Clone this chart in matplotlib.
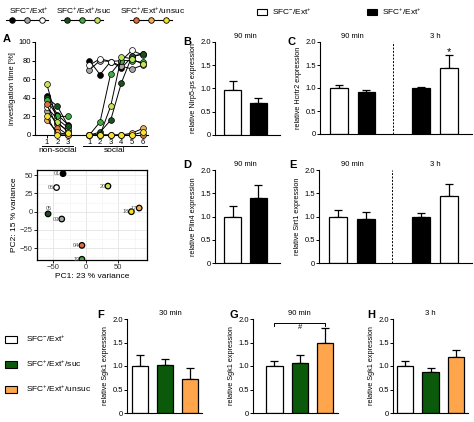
import numpy as np
import matplotlib
matplotlib.use("Agg")
import matplotlib.pyplot as plt
from matplotlib.patches import Rectangle

plt.rcParams.update({
    "font.family": ["Liberation Sans", "DejaVu Sans"],
    "mathtext.fontset": "custom",
    "mathtext.rm": "Liberation Sans",
    "mathtext.it": "Liberation Sans",
    "font.size": 6,
    "axes.linewidth": 0.8,
})

W, H = 474, 422

# ---- data ----
CTRL = r"SFC$^{-}$/Ext$^{+}$"
EXT = r"SFC$^{+}$/Ext$^{+}$"
SUC = r"SFC$^{+}$/Ext$^{+}$/suc"
UNSUC = r"SFC$^{+}$/Ext$^{+}$/unsuc"

animal_colors = ["#000000", "#a6a6a6", "#ffffff",
                 "#1d4f1d", "#3fae3f", "#c4e35a",
                 "#d8703f", "#f6ad4f", "#f4e52c"]
nonsocial = [[42, 22, 11], [26, 12, 5], [30, 17, 8],
             [40, 31, 10], [38, 20, 20], [55, 14, 3],
             [33, 8, 0], [16, 3, 0], [20, 0, 2]]
social = [[80, 65, 79, 72, 84, 87], [70, 80, 79, 74, 71, 75], [75, 82, 79, 80, 91, 86],
          [0, 3, 16, 56, 85, 87], [0, 14, 66, 80, 80, 78], [0, 0, 31, 84, 82, 76],
          [0, 0, 0, 0, 0, 0], [0, 0, 0, 0, 2, 7], [0, 0, 0, 0, 0, 3]]
ns_pos = [0, 1, 2]
so_pos = [4, 5, 6, 7, 8, 9]
trial_labels = ["1", "2", "3", "1", "2", "3", "4", "5", "6"]

pca_ids = ["01", "06", "05", "03", "20", "17", "18", "04", "19"]
pca_x = [-35, -45, -58, -37, 34, 82, 70, -6, -6]
pca_y = [52, 33, -3, -10, 35, 5, 0, -46, -65]
pca_colors = ["#000000", "#ffffff", "#1d4f1d", "#a6a6a6", "#c4e35a",
              "#f6ad4f", "#f4e52c", "#d8703f", "#3fae3f"]

nlrp5_mean = [0.97, 0.68]
nlrp5_err = [0.20, 0.11]
hcrtr2_mean = [1.00, 0.91, 1.00, 1.44]
hcrtr2_err = [0.07, 0.05, 0.02, 0.28]
plin4_mean = [1.00, 1.40]
plin4_err = [0.22, 0.28]
sirt1_mean = [1.00, 0.94, 1.00, 1.45]
sirt1_err = [0.14, 0.15, 0.08, 0.24]
sgk1_30_mean = [1.00, 1.03, 0.72]
sgk1_30_err = [0.23, 0.12, 0.23]
sgk1_90_mean = [1.00, 1.07, 1.50]
sgk1_90_err = [0.10, 0.16, 0.30]
sgk1_3h_mean = [1.00, 0.87, 1.20]
sgk1_3h_err = [0.10, 0.08, 0.15]

GREEN = "#0b5a0b"
ORANGE = "#ffa54c"

fig = plt.figure(figsize=(W / 100, H / 100), dpi=100)


def add_ax(l, t, r, b):
    return fig.add_axes([l / W, 1 - b / H, (r - l) / W, (b - t) / H])


def bar_style(ax, ylabel, xlim):
    ax.spines["top"].set_visible(False)
    ax.spines["right"].set_visible(False)
    ax.set_ylim(0, 2.0)
    ax.set_xlim(*xlim)
    ax.set_yticks([0, 0.5, 1.0, 1.5, 2.0])
    ax.set_yticklabels(["0", "0.5", "1.0", "1.5", "2.0"])
    ax.set_xticks([])
    ax.tick_params(axis="y", length=2, width=0.7, labelsize=5.5, pad=1)
    ax.set_ylabel(ylabel, fontsize=5.2, labelpad=2)


def draw_bars(ax, pos, means, errs, colors, width=0.65):
    ax.bar(pos, means, width=width, color=colors, edgecolor="black", linewidth=0.9, zorder=2)
    ax.errorbar(pos, means, yerr=[np.zeros(len(means)), errs], fmt="none",
                ecolor="black", elinewidth=0.9, capsize=2.6, capthick=0.9, zorder=1)


# ---- panel A: investigation time ----
axA = add_ax(35, 42, 148, 135)
for c, ns, so in zip(animal_colors, nonsocial, social):
    axA.plot(ns_pos, ns, color="black", lw=0.7, marker="o", ms=4.2, mfc=c, mec="black",
             mew=0.5, clip_on=False, zorder=3)
    axA.plot(so_pos, so, color="black", lw=0.7, marker="o", ms=4.2, mfc=c, mec="black",
             mew=0.5, clip_on=False, zorder=3)
axA.set_xlim(-1.1, 9.5)
axA.set_ylim(0, 100)
axA.set_yticks([0, 20, 40, 60, 80, 100])
axA.set_xticks(ns_pos + so_pos)
axA.set_xticklabels(trial_labels)
axA.spines["top"].set_visible(False)
axA.spines["right"].set_visible(False)
axA.tick_params(length=2, width=0.7, labelsize=5.5, pad=1)
axA.set_ylabel("investigation time [%]", fontsize=5.5, labelpad=2)
trA = axA.get_xaxis_transform()
for x0, x1, lab in [(-0.4, 2.5, "non-social"), (3.4, 9.4, "social")]:
    axA.plot([x0, x1], [-0.115, -0.115], color="black", lw=0.7, transform=trA, clip_on=False)
    axA.text((x0 + x1) / 2, -0.13, lab, transform=trA, ha="center", va="top", fontsize=6)

# ---- PCA ----
axP = add_ax(37, 170, 147, 260)
axP.set_xlim(-68, 94)
axP.set_ylim(-66, 57)
axP.set_xticks([-50, 0, 50])
axP.set_yticks([-50, -25, 0, 25, 50])
axP.set_xticks([-75, -25, 25, 75], minor=True)
axP.set_yticks([-62.5, -37.5, -12.5, 12.5, 37.5], minor=True)
axP.grid(True, which="major", color="#e4e4e4", lw=0.6)
axP.grid(True, which="minor", color="#f2f2f2", lw=0.4)
axP.set_axisbelow(True)
axP.tick_params(which="minor", length=0)
axP.tick_params(which="major", length=2, width=0.6, labelsize=5.5, pad=1, labelcolor="#333333")
for s in axP.spines.values():
    s.set_linewidth(0.9)
axP.scatter(pca_x, pca_y, s=16, c=pca_colors, edgecolors="black", linewidths=0.9, zorder=3)
for i, (x, y) in enumerate(zip(pca_x, pca_y)):
    if pca_ids[i] == "05":
        axP.text(x + 1, y + 4, pca_ids[i], fontsize=4, color="#555555", ha="center", va="bottom")
    else:
        axP.text(x - 4, y, pca_ids[i], fontsize=4, color="#555555", ha="right", va="center")
axP.set_xlabel("PC1: 23 % variance", fontsize=6, labelpad=1)
axP.set_ylabel("PC2: 15 % variance", fontsize=6, labelpad=1)

# ---- B ----
axB = add_ax(215, 42, 280, 135)
bar_style(axB, "relative Nlrp5-ps expression", (-0.69, 1.86))
draw_bars(axB, [0, 1], nlrp5_mean, nlrp5_err, ["white", "black"], 0.67)
axB.text(0.5, 2.04, "90 min", ha="center", va="bottom", fontsize=5.5)

# ---- C ----
axC = add_ax(320, 42, 472, 134)
bar_style(axC, "relative Hcrtr2 expression", (-0.69, 4.84))
draw_bars(axC, [0, 1, 3, 4], hcrtr2_mean, hcrtr2_err, ["white", "black", "black", "white"])
axC.axvline(1.96, color="black", ls="--", lw=0.7, dashes=(2, 1.5))
axC.text(0.5, 2.04, "90 min", ha="center", va="bottom", fontsize=5.5)
axC.text(3.5, 2.04, "3 h", ha="center", va="bottom", fontsize=5.5)
axC.text(4, 1.78, "*", ha="center", va="center", fontsize=8)

# ---- D ----
axD = add_ax(215, 170, 280, 263)
bar_style(axD, "relative Plin4 expression", (-0.69, 1.86))
draw_bars(axD, [0, 1], plin4_mean, plin4_err, ["white", "black"], 0.67)
axD.text(0.5, 2.04, "90 min", ha="center", va="bottom", fontsize=5.5)

# ---- E ----
axE = add_ax(319, 170, 472, 263)
bar_style(axE, "relative Sirt1 expression", (-0.69, 4.84))
draw_bars(axE, [0, 1, 3, 4], sirt1_mean, sirt1_err, ["white", "black", "black", "white"])
axE.axvline(1.96, color="black", ls="--", lw=0.7, dashes=(2, 1.5))
axE.text(0.5, 2.04, "90 min", ha="center", va="bottom", fontsize=5.5)
axE.text(3.5, 2.04, "3 h", ha="center", va="bottom", fontsize=5.5)

# ---- F, G, H ----
sgk_colors = ["white", GREEN, ORANGE]
axF = add_ax(127, 319, 202, 413)
bar_style(axF, "relative Sgk1 expression", (-0.52, 2.48))
draw_bars(axF, [0, 1, 2], sgk1_30_mean, sgk1_30_err, sgk_colors, 0.64)
axF.text(1.2, 2.04, "30 min", ha="center", va="bottom", fontsize=5.5)

axG = add_ax(253, 319, 338, 413)
bar_style(axG, "relative Sgk1 expression", (-0.84, 2.5))
draw_bars(axG, [0, 1, 2], sgk1_90_mean, sgk1_90_err, sgk_colors, 0.64)
axG.plot([0, 0, 2, 2], [1.86, 1.91, 1.91, 1.86], color="black", lw=0.7, clip_on=False)
axG.text(1, 1.82, "#", ha="center", va="center", fontsize=5.5)
axG.text(1, 2.04, "90 min", ha="center", va="bottom", fontsize=5.5)

axH = add_ax(393, 319, 468, 413)
bar_style(axH, "relative Sgk1 expression", (-0.47, 2.47))
draw_bars(axH, [0, 1, 2], sgk1_3h_mean, sgk1_3h_err, sgk_colors, 0.64)
axH.text(1, 2.04, "3 h", ha="center", va="bottom", fontsize=5.5)

# ---- overlay: panel letters and legends ----
ov = fig.add_axes([0, 0, 1, 1])
ov.set_xlim(0, W)
ov.set_ylim(H, 0)
ov.axis("off")
for lab, x, y in [("A", 3, 39), ("B", 183, 42), ("C", 288, 42), ("D", 183, 165),
                  ("E", 289, 165), ("F", 97, 315), ("G", 230, 315), ("H", 367, 315)]:
    ov.text(x, y, lab, fontsize=8, fontweight="bold", ha="left", va="center")

groups = [(CTRL, 29, animal_colors[0:3]), (SUC, 84, animal_colors[3:6]),
          (UNSUC, 153, animal_colors[6:9])]
for title, xc, cols in groups:
    ov.text(xc, 11, title, ha="center", va="center", fontsize=6)
    ov.plot([xc - 23, xc + 19], [19.5, 19.5], color="black", lw=0.8)
    for xm, c in zip([xc - 17, xc - 2, xc + 13], cols):
        ov.plot(xm, 19.5, marker="o", ms=4, mfc=c, mec="black", mew=0.6)

for x, fc, lab in [(257, "white", CTRL), (367, "black", EXT)]:
    ov.add_patch(Rectangle((x, 9), 10, 6, facecolor=fc, edgecolor="black", lw=0.8))
    ov.text(x + 15, 12, lab, ha="left", va="center", fontsize=6)

for y, fc, lab in [(339, "white", CTRL), (364, GREEN, SUC), (389, ORANGE, UNSUC)]:
    ov.add_patch(Rectangle((5, y - 3.5), 12, 7, facecolor=fc, edgecolor="black", lw=0.8))
    ov.text(26, y, lab, ha="left", va="center", fontsize=6)

fig.savefig("out.png", dpi=100)
